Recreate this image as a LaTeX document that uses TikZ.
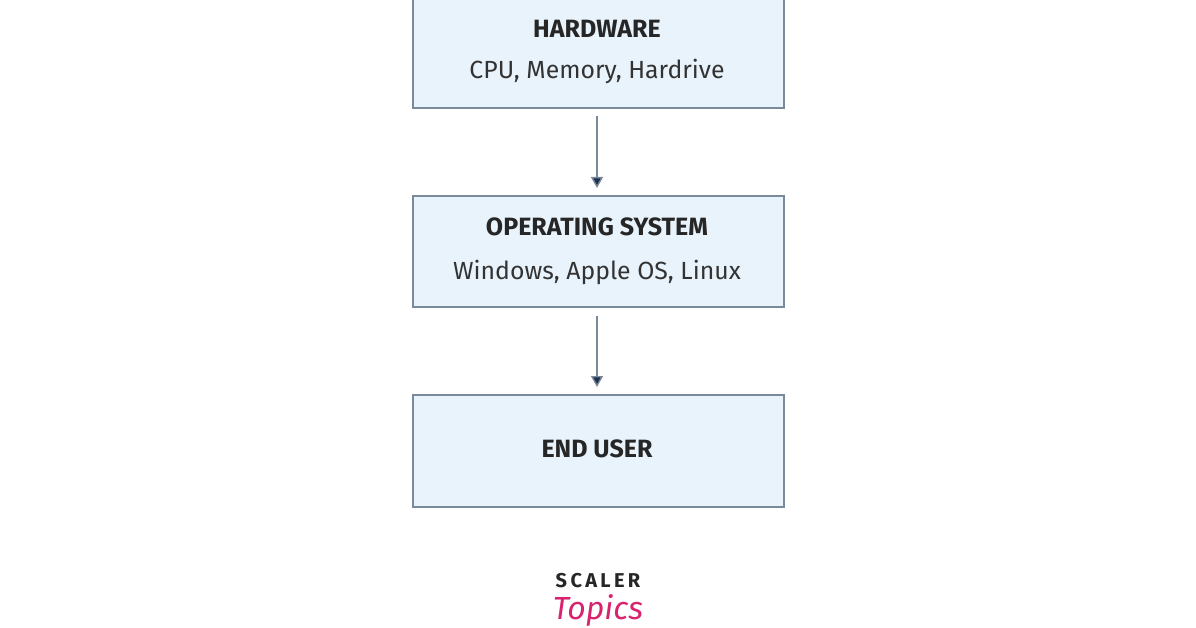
\documentclass[tikz,border=0pt]{standalone}
\usepackage{fontspec}
\setmainfont{Fira Sans}
\usetikzlibrary{arrows.meta}
\definecolor{boxfill}{HTML}{E8F3FB}
\definecolor{boxline}{HTML}{7A8A9A}
\definecolor{arr}{HTML}{1F3050}
\definecolor{pinkc}{HTML}{D8246E}
\begin{document}
\begin{tikzpicture}[x=1pt,y=-1pt,
  box/.style={draw=boxline,fill=boxfill,line width=1.6pt,minimum width=371pt,inner sep=0pt,anchor=north west},
  ttl/.style={font=\fontsize{25}{28}\selectfont\bfseries,text=black!85},
  sub/.style={font=\fontsize{24.8}{28}\selectfont,text=black!80},
  conn/.style={draw=boxline,line width=1.4pt,-{Triangle[length=11pt,width=12pt,fill=arr]}}]
\useasboundingbox (0,0) rectangle (1196,628);
\node[box,minimum height=112pt] (hw) at (412,-5) {};
\node[box,minimum height=111pt] (os) at (412,195) {};
\node[box,minimum height=112pt] (eu) at (412,394) {};
\node[ttl] (hwt) at (597,29) {HARDWARE};
\node[sub] (hws) at (597,71) {CPU, Memory, Hardrive};
\node[ttl] (ost) at (597,227) {OPERATING SYSTEM};
\node[sub] (oss) at (597,272) {Windows, Apple OS, Linux};
\node[ttl] (eut) at (597,449) {END USER};
\coordinate (a1) at (597,116); \coordinate (a2) at (597,188);
\coordinate (b1) at (597,316); \coordinate (b2) at (597,387);
\draw[conn] (a1) -- (a2);
\draw[conn] (b1) -- (b2);
\node[font=\fontsize{20}{22}\selectfont\bfseries,text=black!85] (sc) at (598,581) {S\,C\,A\,L\,E\,R};
\node[font=\fontsize{32}{34}\selectfont\itshape,text=pinkc] (tp) at (598,610) {Topics};
\end{tikzpicture}
\end{document}
